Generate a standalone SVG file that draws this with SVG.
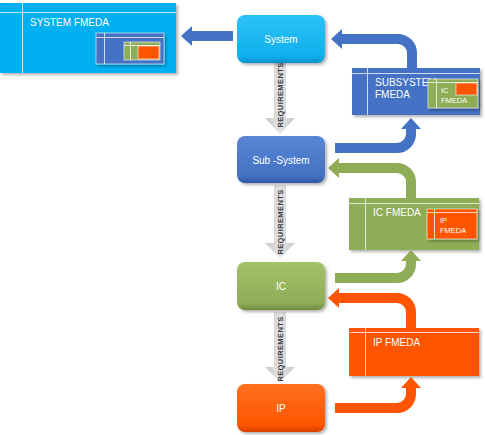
<svg xmlns="http://www.w3.org/2000/svg" width="485" height="435" viewBox="0 0 485 435">
<style>
.t{font-family:"Liberation Sans",Arial,sans-serif;fill:#fff}
.nt{font-size:10px;text-anchor:middle}
.ft{font-size:10px}
.st{font-size:7.5px}
.req{font-family:"Liberation Sans",Arial,sans-serif;font-size:7.5px;font-weight:bold;fill:#3a3a3a;text-anchor:middle;letter-spacing:0.4px}
.ln{stroke:#ffffff;stroke-opacity:0.75;stroke-width:1;fill:none}
.bd{stroke:#ffffff;stroke-opacity:0.6;stroke-width:1}
.sb{stroke:#4472c4;stroke-width:10;fill:none}
.sg{stroke:#8fad57;stroke-width:10;fill:none}
.so{stroke:#ff5500;stroke-width:10;fill:none}
</style>
<defs>
<filter id="sh" x="-10%" y="-10%" width="125%" height="130%">
<feDropShadow dx="2" dy="2" stdDeviation="1.5" flood-color="#000" flood-opacity="0.3"/>
</filter>
<linearGradient id="gc" x1="0" y1="0" x2="0" y2="1"><stop offset="0" stop-color="#2cc2f7"/><stop offset="0.85" stop-color="#10b0ec"/><stop offset="1" stop-color="#0090cc"/></linearGradient>
<linearGradient id="gb" x1="0" y1="0" x2="0" y2="1"><stop offset="0" stop-color="#5a86d4"/><stop offset="0.85" stop-color="#4472c4"/><stop offset="1" stop-color="#2f58a4"/></linearGradient>
<linearGradient id="gg" x1="0" y1="0" x2="0" y2="1"><stop offset="0" stop-color="#a3c26a"/><stop offset="0.85" stop-color="#8fad57"/><stop offset="1" stop-color="#6f8c3c"/></linearGradient>
<linearGradient id="go" x1="0" y1="0" x2="0" y2="1"><stop offset="0" stop-color="#ff7020"/><stop offset="0.85" stop-color="#ff5500"/><stop offset="1" stop-color="#d84300"/></linearGradient>
<linearGradient id="gr" x1="0" y1="0" x2="1" y2="0"><stop offset="0" stop-color="#c8c8c8"/><stop offset="0.5" stop-color="#e4e4e4"/><stop offset="1" stop-color="#c8c8c8"/></linearGradient>
<marker id="hb" markerUnits="userSpaceOnUse" markerWidth="12" markerHeight="22" refX="0" refY="11" orient="auto" viewBox="0 0 12 22"><path d="M0,1 L11,11 L0,21 Z" fill="#4472c4"/></marker>
<marker id="hg" markerUnits="userSpaceOnUse" markerWidth="12" markerHeight="22" refX="0" refY="11" orient="auto" viewBox="0 0 12 22"><path d="M0,1 L11,11 L0,21 Z" fill="#8fad57"/></marker>
<marker id="ho" markerUnits="userSpaceOnUse" markerWidth="12" markerHeight="22" refX="0" refY="11" orient="auto" viewBox="0 0 12 22"><path d="M0,1 L11,11 L0,21 Z" fill="#ff5500"/></marker>
</defs>
<rect width="485" height="435" fill="#fff"/>

<g id="fmeda-system">
<rect x="0" y="3" width="176" height="70" fill="#00b0f0" filter="url(#sh)"/>
<path class="ln" d="M0,12.5 H176 M22.5,3 V73"/>
<text class="t ft" x="30" y="26">SYSTEM FMEDA</text>
<rect x="96" y="33" width="68" height="31" fill="#4472c4" class="bd" filter="url(#sh)"/>
<path class="ln" d="M96,37.5 H164 M104.5,33 V64"/>
<rect x="124" y="42" width="36" height="18" fill="#8fad57" class="bd"/>
<path class="ln" d="M124,45.5 H160 M130.5,42 V60"/>
<rect x="138" y="46" width="21" height="13" fill="#ff5500" class="bd"/>
</g>

<g id="fmeda-subsystem">
<rect x="352" y="68" width="128" height="47" fill="#4472c4" filter="url(#sh)"/>
<path class="ln" d="M352,73.5 H480 M367.5,68 V115"/>
<text class="t ft" x="375" y="86">SUBSYSTEM</text>
<text class="t ft" x="375" y="98">FMEDA</text>
<rect x="428" y="79" width="50" height="29" fill="#8fad57" class="bd" filter="url(#sh)"/>
<path class="ln" d="M428,82.5 H478 M436.5,79 V108"/>
<text class="t st" x="441" y="93">IC</text>
<text class="t st" x="441" y="103">FMEDA</text>
<rect x="456" y="83" width="21" height="12" fill="#ff5500" class="bd"/>
</g>

<g id="fmeda-ic">
<rect x="349" y="198" width="130" height="52" fill="#8fad57" filter="url(#sh)"/>
<path class="ln" d="M349,203.5 H479 M365.5,198 V250"/>
<text class="t ft" x="373" y="216">IC FMEDA</text>
<rect x="427" y="209" width="50" height="30" fill="#ff5500" class="bd" filter="url(#sh)"/>
<path class="ln" d="M427,212.5 H477 M434.5,209 V239"/>
<text class="t st" x="440" y="223">IP</text>
<text class="t st" x="440" y="233">FMEDA</text>
</g>

<g id="fmeda-ip">
<rect x="349" y="328" width="130" height="48" fill="#ff5500" filter="url(#sh)"/>
<path class="ln" d="M349,332.5 H479 M365.5,328 V376"/>
<text class="t ft" x="373" y="346">IP FMEDA</text>
</g>

<g id="connectors">
<path d="M274,63 H286 V118 H295 L280,134 L265,118 H274 Z" fill="url(#gr)"/>
<text class="req" transform="translate(282.7,95) rotate(-90)">REQUIREMENTS</text>
<path d="M274,185 H286 V243 H295 L280,258 L265,243 H274 Z" fill="url(#gr)"/>
<text class="req" transform="translate(282.7,222) rotate(-90)">REQUIREMENTS</text>
<path d="M274,312 H286 V367 H295 L280,382 L265,367 H274 Z" fill="url(#gr)"/>
<text class="req" transform="translate(282.7,349) rotate(-90)">REQUIREMENTS</text>

<path class="sb" d="M233,36 H192" marker-end="url(#hb)"/>
<path class="sb" d="M412,68 V53 A14,14 0 0 0 398,39 H342" marker-end="url(#hb)"/>
<path class="sb" d="M335,148 H397 A14,14 0 0 0 411,134 V129" marker-end="url(#hb)"/>
<path class="sg" d="M411,198 V182 A14,14 0 0 0 397,168 H339" marker-end="url(#hg)"/>
<path class="sg" d="M335,278 H397 A14,14 0 0 0 411,264 V261" marker-end="url(#hg)"/>
<path class="so" d="M411,328 V312 A14,14 0 0 0 397,298 H339" marker-end="url(#ho)"/>
<path class="so" d="M335,408 H397 A14,14 0 0 0 411,394 V388" marker-end="url(#ho)"/>
</g>

<g id="node-system">
<rect x="237" y="15" width="88" height="48" rx="8" fill="url(#gc)" filter="url(#sh)"/>
<text class="t nt" x="281" y="43">System</text>
</g>
<g id="node-subsystem">
<rect x="237" y="136" width="88" height="47" rx="8" fill="url(#gb)" filter="url(#sh)"/>
<text class="t nt" x="281" y="164">Sub -System</text>
</g>
<g id="node-ic">
<rect x="237" y="262" width="88" height="48" rx="8" fill="url(#gg)" filter="url(#sh)"/>
<text class="t nt" x="281" y="290">IC</text>
</g>
<g id="node-ip">
<rect x="237" y="384" width="88" height="48" rx="8" fill="url(#go)" filter="url(#sh)"/>
<text class="t nt" x="281" y="412">IP</text>
</g>
</svg>
